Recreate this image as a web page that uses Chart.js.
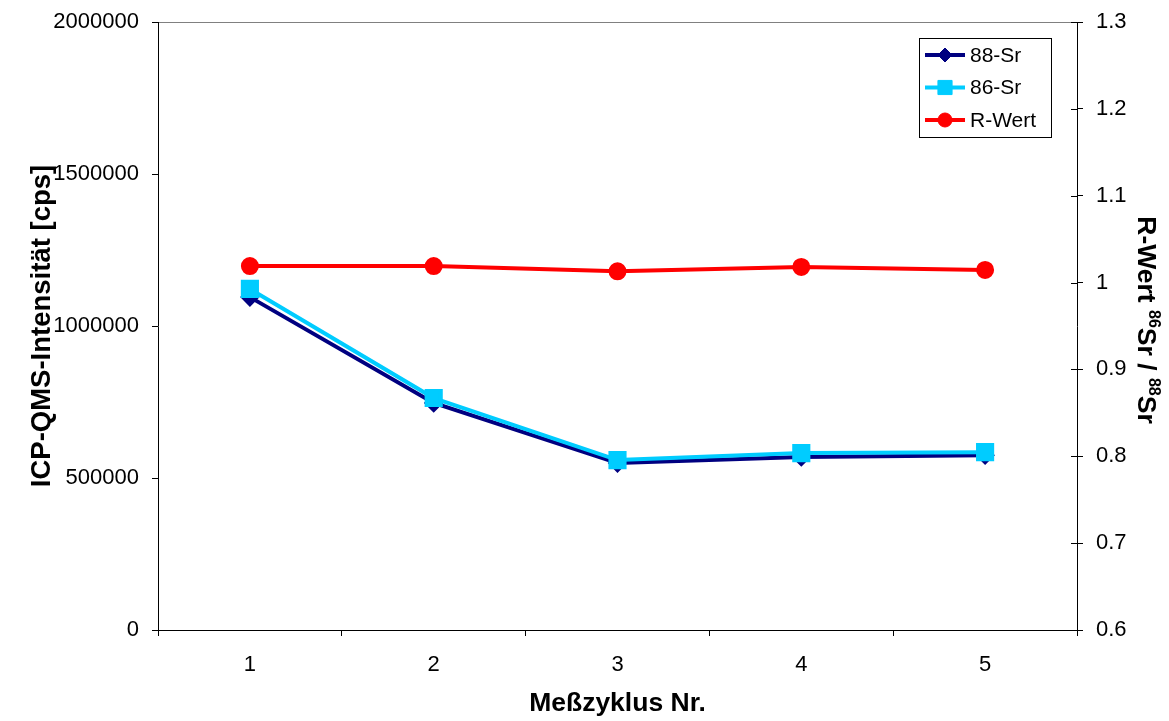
<!DOCTYPE html>
<html>
<head>
<meta charset="utf-8">
<title>Sr-Intensität und R-Wert</title>
<script src="https://cdn.jsdelivr.net/npm/chart.js@4"></script>
<style>
  body { margin: 0; background: #fff; }
  canvas { display: block; }
</style>
</head>
<body>
<canvas id="srChart" width="1169" height="721"></canvas>
<script>
// Messdaten pro Meßzyklus
const cycles = ['1', '2', '3', '4', '5'];
const sr88 = [1095000, 747000, 549000, 569000, 575000];
const sr86 = [1122000, 763000, 559000, 582000, 585000];
const rValue = [1.019, 1.019, 1.013, 1.018, 1.0145];

// Achsenbeschriftung
const intensityTicks = [0, 500000, 1000000, 1500000, 2000000];
const ratioTicks = [0.6, 0.7, 0.8, 0.9, 1.0, 1.1, 1.2, 1.3];

const FONT = '"Liberation Sans", Arial, sans-serif';

// Legende im Diagramm, rechte Achsenmarken und rechter Achsentitel (mit Hochstellung)
const srDecor = {
  id: 'srDecor',
  afterDraw(chart) {
    const ctx = chart.ctx;
    const area = chart.chartArea;
    const yR = chart.scales.yR;

    // kurze Markierungen nach innen an der rechten Achse
    ctx.save();
    ctx.strokeStyle = '#000';
    ctx.lineWidth = 1;
    yR.ticks.forEach(t => {
      const py = Math.round(yR.getPixelForValue(t.value)) + 0.5;
      ctx.beginPath();
      ctx.moveTo(area.right - 6, py);
      ctx.lineTo(area.right, py);
      ctx.stroke();
    });
    ctx.restore();

    // Titel rechts: R-Wert 86Sr / 88Sr
    const parts = [
      { t: 'R-Wert ', sup: false },
      { t: '86', sup: true },
      { t: 'Sr / ', sup: false },
      { t: '88', sup: true },
      { t: 'Sr', sup: false }
    ];
    const big = 'bold 26.5px ' + FONT;
    const small = 'bold 16px ' + FONT;
    ctx.save();
    ctx.translate(area.right + 70, (area.top + area.bottom) / 2 - 6);
    ctx.rotate(Math.PI / 2);
    ctx.fillStyle = '#000';
    ctx.textBaseline = 'alphabetic';
    let total = 0;
    parts.forEach(p => {
      ctx.font = p.sup ? small : big;
      p.w = ctx.measureText(p.t).width;
      total += p.w;
    });
    let x = -total / 2;
    parts.forEach(p => {
      ctx.font = p.sup ? small : big;
      ctx.fillText(p.t, x, p.sup ? -2 : 9);
      x += p.w;
    });
    ctx.restore();

    // Legende mit Rahmen
    const lw = 132, lh = 99;
    const lx = area.right - 158, ly = area.top + 16;
    ctx.save();
    ctx.fillStyle = '#fff';
    ctx.fillRect(lx, ly, lw, lh);
    ctx.strokeStyle = '#000';
    ctx.lineWidth = 1;
    ctx.strokeRect(lx + 0.5, ly + 0.5, lw, lh);
    ctx.font = '21px ' + FONT;
    ctx.textBaseline = 'middle';
    ctx.textAlign = 'left';
    chart.data.datasets.forEach((ds, i) => {
      const y = ly + 17 + i * 32.5;
      ctx.strokeStyle = ds.borderColor;
      ctx.lineWidth = ds.borderWidth;
      ctx.beginPath();
      ctx.moveTo(lx + 6, y);
      ctx.lineTo(lx + 46, y);
      ctx.stroke();
      ctx.fillStyle = ds.pointBackgroundColor;
      ctx.strokeStyle = ds.pointBorderColor;
      ctx.lineWidth = 1;
      Chart.helpers.drawPoint(ctx, {
        pointStyle: ds.pointStyle,
        radius: ds.pointRadius,
        rotation: 0,
        borderWidth: 1
      }, lx + 26, y);
      ctx.fillStyle = '#000';
      ctx.fillText(ds.label, lx + 51, y + 1);
    });
    ctx.restore();
  }
};

// vertikale Achsen ohne zusätzlichen Randabstand für die Beschriftung
function fitVertical(width) {
  return scale => {
    scale.width = width;
    scale.paddingTop = 0;
    scale.paddingBottom = 0;
  };
}

new Chart(document.getElementById('srChart'), {
  type: 'line',
  data: {
    labels: cycles,
    datasets: [
      {
        label: '88-Sr',
        data: sr88,
        yAxisID: 'y',
        borderColor: '#000080',
        backgroundColor: '#000080',
        pointBackgroundColor: '#000080',
        pointBorderColor: '#000080',
        borderWidth: 4,
        pointStyle: 'rectRot',
        pointRadius: 7,
        order: 2
      },
      {
        label: '86-Sr',
        data: sr86,
        yAxisID: 'y',
        borderColor: '#00CCFF',
        backgroundColor: '#00CCFF',
        pointBackgroundColor: '#00CCFF',
        pointBorderColor: '#00CCFF',
        borderWidth: 4,
        pointStyle: 'rect',
        pointRadius: 10,
        order: 1
      },
      {
        label: 'R-Wert',
        data: rValue,
        yAxisID: 'yR',
        borderColor: '#FF0000',
        backgroundColor: '#FF0000',
        pointBackgroundColor: '#FF0000',
        pointBorderColor: '#FF0000',
        borderWidth: 4,
        pointStyle: 'circle',
        pointRadius: 7,
        order: 0
      }
    ]
  },
  options: {
    responsive: false,
    animation: false,
    events: [],
    layout: { padding: { top: 22, bottom: 0, left: 0, right: 0 } },
    elements: { line: { tension: 0 } },
    plugins: {
      legend: { display: false },
      tooltip: { enabled: false }
    },
    scales: {
      x: {
        type: 'category',
        offset: true,
        afterFit: scale => { scale.height = 91; },
        border: { color: '#000', width: 1 },
        grid: {
          offset: true,
          drawOnChartArea: false,
          tickLength: 6,
          tickColor: '#000'
        },
        ticks: {
          color: '#000',
          padding: 16,
          font: { family: FONT, size: 22 }
        },
        title: {
          display: true,
          text: 'Meßzyklus Nr.',
          color: '#000',
          padding: { top: 0, bottom: 1 },
          font: { family: FONT, size: 26.5, weight: 'bold' }
        }
      },
      y: {
        position: 'left',
        min: 0,
        max: 2000000,
        afterFit: fitVertical(158),
        afterBuildTicks: scale => { scale.ticks = intensityTicks.map(v => ({ value: v })); },
        border: { color: '#000', width: 1 },
        grid: {
          drawOnChartArea: true,
          tickLength: 6,
          tickColor: '#000',
          color: c => (c.tick && c.tick.value === 2000000 ? '#808080' : 'rgba(0,0,0,0)')
        },
        ticks: {
          color: '#000',
          padding: 13,
          font: { family: FONT, size: 22 },
          callback: v => String(v)
        },
        title: {
          display: true,
          text: 'ICP-QMS-Intensität [cps]',
          color: '#000',
          padding: { top: 26, bottom: 0 },
          font: { family: FONT, size: 27.5, weight: 'bold' }
        }
      },
      yR: {
        position: 'right',
        min: 0.6,
        max: 1.3,
        afterFit: fitVertical(92),
        afterBuildTicks: scale => { scale.ticks = ratioTicks.map(v => ({ value: v })); },
        border: { color: '#000', width: 1 },
        grid: {
          drawOnChartArea: false,
          tickLength: 6,
          tickColor: '#000'
        },
        ticks: {
          color: '#000',
          padding: 13,
          font: { family: FONT, size: 22 },
          callback: v => String(+Number(v).toFixed(1))
        }
      }
    }
  },
  plugins: [srDecor]
});
</script>
</body>
</html>
